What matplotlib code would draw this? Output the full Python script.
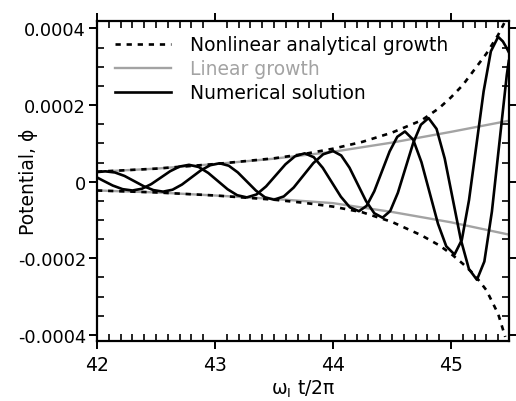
import numpy
from matplotlib import pyplot
from matplotlib.ticker import FixedLocator, MultipleLocator

# Envelopes (units of 1e-5)
t_lin = [42.0, 42.5, 43.0, 43.5, 44.0, 44.5, 45.0, 45.49]
lin_up = [2.6, 3.4, 4.6, 6.0, 7.8, 10.2, 13.0, 15.9]
lin_lo = [-2.3, -2.8, -3.6, -4.5, -5.6, -7.9, -10.6, -13.8]

t_nl_up = [42.0, 42.5, 43.0, 43.5, 43.75, 44.0, 44.25, 44.5, 44.75, 44.9, 45.0, 45.1, 45.2, 45.3, 45.4, 45.47]
nl_up = [2.6, 3.4, 4.6, 6.1, 7.2, 8.6, 10.4, 12.8, 16.0, 19.2, 22.0, 25.2, 29.3, 33.4, 38.3, 42.5]
t_nl_lo = [42.0, 42.5, 43.0, 43.5, 43.75, 44.0, 44.25, 44.5, 44.75, 44.9, 45.0, 45.1, 45.2, 45.3, 45.4, 45.46]
nl_lo = [-2.3, -2.8, -3.6, -4.7, -5.5, -6.5, -8.0, -10.5, -14.0, -16.6, -18.8, -21.4, -24.3, -28.3, -34.5, -40.5]

# Numerical solution, two traces (units of 1e-5)
t_a = [42.0, 42.05, 42.133, 42.217, 42.30, 42.38, 42.46, 42.54, 42.62, 42.70, 42.78,
       42.862, 42.943, 43.025, 43.107, 43.188, 43.27, 43.352, 43.433, 43.515, 43.597,
       43.678, 43.76, 43.837, 43.913, 43.99, 44.067, 44.143, 44.22, 44.285, 44.35,
       44.415, 44.48, 44.545, 44.61, 44.68, 44.75, 44.82, 44.89, 44.96, 45.03,
       45.092, 45.153, 45.215, 45.277, 45.338, 45.40, 45.44, 45.47, 45.49]
phi_a = [1.1, 0.3, -1.0, -1.95, -2.3, -1.85, -0.63, 1.05, 2.73, 3.95, 4.4,
         3.83, 2.28, 0.15, -1.98, -3.53, -4.1, -3.33, -1.23, 1.65, 4.53,
         6.63, 7.4, 6.39, 3.63, -0.15, -3.93, -6.69, -7.7, -6.31, -2.5,
         2.7, 7.9, 11.71, 13.1, 10.95, 5.08, -2.95, -10.98, -16.85, -19.0,
         -15.2, -4.8, 9.4, 23.6, 34.0, 37.8, 36.6, 35.0, 33.8]

t_b = [42.0, 42.07, 42.152, 42.233, 42.315, 42.397, 42.478, 42.56, 42.64, 42.72, 42.80,
       42.88, 42.96, 43.04, 43.117, 43.193, 43.27, 43.347, 43.423, 43.50, 43.583,
       43.667, 43.75, 43.833, 43.917, 44.00, 44.07, 44.14, 44.21, 44.28, 44.35,
       44.42, 44.485, 44.55, 44.615, 44.68, 44.745, 44.81, 44.878, 44.947, 45.015,
       45.083, 45.152, 45.22, 45.283, 45.347, 45.41, 45.473, 45.49]
phi_b = [2.5, 2.7, 2.4, 1.5, 0.15, -1.2, -2.2, -2.6, -2.1, -0.75, 1.1,
         2.95, 4.3, 4.8, 4.16, 2.43, 0.05, -2.33, -4.06, -4.7, -3.85,
         -1.53, 1.65, 4.83, 7.15, 8.0, 6.83, 3.65, -0.7, -5.05, -8.23,
         -9.4, -7.66, -2.9, 3.6, 10.1, 14.86, 16.6, 13.77, 6.05, -4.5,
         -15.05, -22.77, -25.6, -20.83, -7.8, 10.0, 27.8, 31.5]

y_ticks = [0.0004, 0.0002, 0, -0.0002, -0.0004]
y_tick_labels = ['0.0004', '0.0002', '0', '-0.0002', '-0.0004']
x_ticks = [42, 43, 44, 45]

GREY = '#a3a3a3'
FONT = 13.5
TICK_FONT = 12.8
S = 1e-5

pyplot.rcParams['font.family'] = ['DejaVu Sans']
pyplot.rcParams['mathtext.fontset'] = 'dejavusans'

fig = pyplot.figure(figsize=(5.16, 4.02), dpi=100)
ax = fig.add_axes([0.188, 0.149, 0.798, 0.796])

ax.plot(t_lin, numpy.array(lin_up) * S, color=GREY, linewidth=1.7, label='Linear growth')
ax.plot(t_lin, numpy.array(lin_lo) * S, color=GREY, linewidth=1.7)
ax.plot(t_nl_up, numpy.array(nl_up) * S, color='black', linewidth=1.9, linestyle=(0, (2.0, 2.2)),
        label='Nonlinear analytical growth')
ax.plot(t_nl_lo, numpy.array(nl_lo) * S, color='black', linewidth=1.9, linestyle=(0, (2.0, 2.2)))
ax.plot(t_a, numpy.array(phi_a) * S, color='black', linewidth=1.9, label='Numerical solution')
ax.plot(t_b, numpy.array(phi_b) * S, color='black', linewidth=1.9)

ax.set_xlim(42, 45.49)
ax.set_ylim(-0.000416, 0.000419)

ax.xaxis.set_major_locator(FixedLocator(x_ticks))
ax.xaxis.set_minor_locator(MultipleLocator(0.1))
ax.yaxis.set_major_locator(FixedLocator(y_ticks))
ax.yaxis.set_minor_locator(MultipleLocator(0.00005))
ax.set_yticklabels(y_tick_labels)
ax.set_xticklabels([str(x) for x in x_ticks])

ax.tick_params(which='major', direction='out', length=6, width=1.4, top=True, right=True,
               labelsize=TICK_FONT, pad=2)
ax.tick_params(which='minor', direction='in', length=5, width=1.2, top=True, right=True)
ax.tick_params(axis='x', which='major', labelsize=FONT, pad=4)
for spine in ax.spines.values():
    spine.set_linewidth(1.6)

ax.set_ylabel('Potential, ϕ', fontsize=FONT)
ax.yaxis.set_label_coords(-0.143, 0.5)
ax.set_xlabel(r'$\mathrm{\omega_{I}\ t/2\pi}$', fontsize=FONT, labelpad=3)

handles, labels = ax.get_legend_handles_labels()
order = [1, 0, 2]
leg = ax.legend([handles[i] for i in order], [labels[i] for i in order], loc='upper left',
                bbox_to_anchor=(0.02, 0.985), frameon=False, fontsize=FONT,
                handlelength=3.0, handletextpad=1.0, labelspacing=0.27, borderpad=0)
leg.get_texts()[1].set_color(GREY)

fig.savefig('out.png', dpi=100)
